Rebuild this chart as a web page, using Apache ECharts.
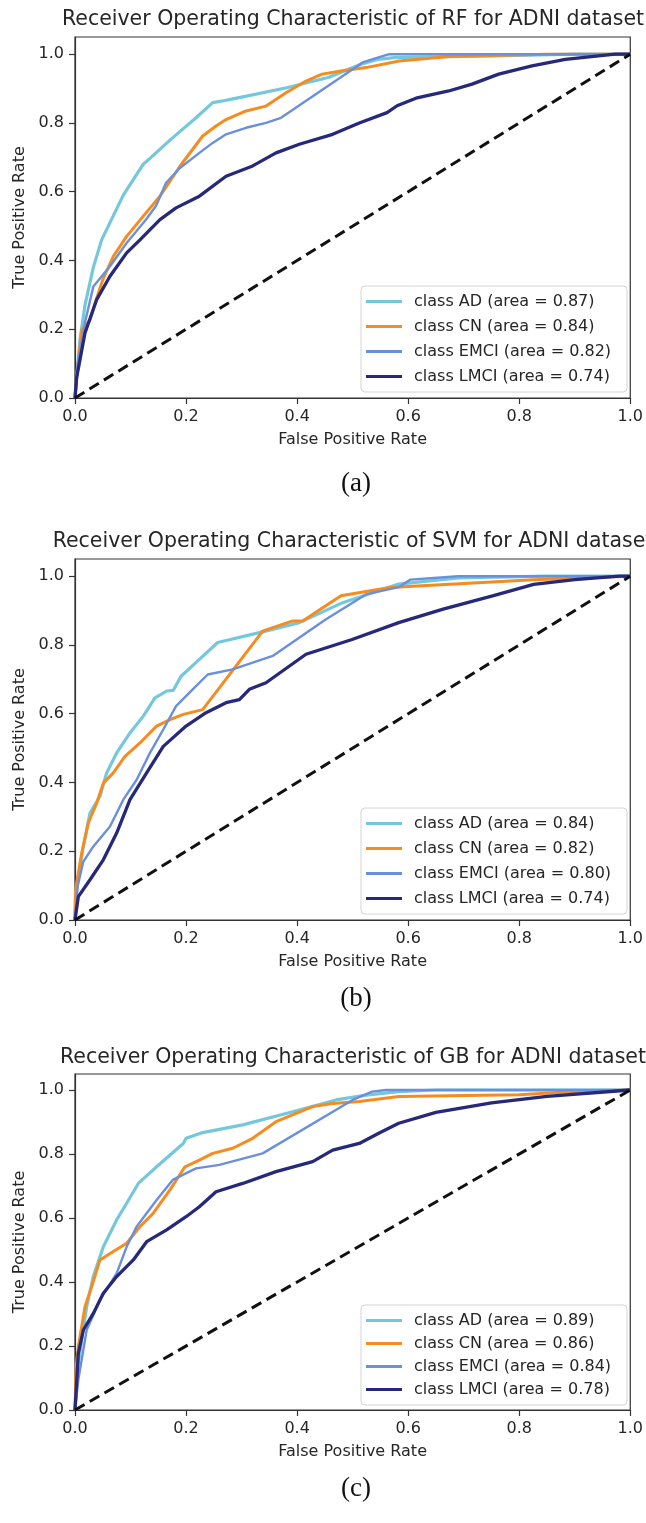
<!DOCTYPE html>
<html lang="en">

<head>
    <meta charset="UTF-8">
    <script src="https://cdn.jsdelivr.net/npm/echarts@6/dist/echarts.min.js"></script>
    <title>ROC curves - RF / SVM / GB on ADNI</title>
    <style>
        html, body { margin: 0; padding: 0; background: #fff; }
        #chart { width: 646px; height: 1523px; }
    </style>
</head>

<body>
    <div id="chart"></div>

    <script>
        // tick labels shared by both axes
        const ticks = [0, 0.2, 0.4, 0.6, 0.8, 1.0];
        const classNames = ['AD', 'CN', 'EMCI', 'LMCI'];
        const chance = [[0, 0], [1, 1]];

        // (a) RF
        const rfAuc = [0.87, 0.84, 0.82, 0.74];
        const rfAD = [[0,0],[0.003,0.06],[0.009,0.17],[0.018,0.27],[0.033,0.38],[0.048,0.46],[0.063,0.51],[0.087,0.59],[0.123,0.68],[0.137,0.70],[0.171,0.75],[0.218,0.815],[0.248,0.859],[0.266,0.864],[0.284,0.87],[0.309,0.878],[0.383,0.903],[0.456,0.932],[0.515,0.971],[0.545,0.985],[0.575,0.99],[0.75,0.995],[0.9,1.0],[1,1]];
        const rfCN = [[0,0],[0.003,0.06],[0.012,0.198],[0.027,0.227],[0.036,0.276],[0.05,0.344],[0.069,0.412],[0.093,0.47],[0.123,0.529],[0.153,0.587],[0.189,0.674],[0.23,0.762],[0.254,0.791],[0.272,0.81],[0.308,0.835],[0.344,0.849],[0.38,0.888],[0.416,0.922],[0.445,0.942],[0.482,0.952],[0.524,0.961],[0.584,0.98],[0.674,0.993],[0.85,1.0],[1,1]];
        const rfEMCI = [[0,0],[0.005,0.1],[0.018,0.22],[0.033,0.324],[0.063,0.383],[0.093,0.451],[0.128,0.519],[0.146,0.559],[0.164,0.626],[0.189,0.669],[0.224,0.713],[0.248,0.742],[0.272,0.767],[0.308,0.786],[0.344,0.8],[0.371,0.815],[0.518,0.976],[0.545,0.99],[0.566,1.0],[1,1]];
        const rfLMCI = [[0,0],[0.003,0.06],[0.018,0.189],[0.039,0.286],[0.063,0.354],[0.093,0.422],[0.117,0.46],[0.153,0.519],[0.182,0.553],[0.224,0.587],[0.272,0.645],[0.32,0.675],[0.362,0.713],[0.404,0.738],[0.464,0.767],[0.512,0.80],[0.562,0.83],[0.58,0.85],[0.614,0.872],[0.673,0.893],[0.715,0.913],[0.763,0.942],[0.823,0.966],[0.883,0.985],[0.973,1.0],[1,1]];

        // (b) SVM
        const svmAuc = [0.84, 0.82, 0.80, 0.74];
        const svmAD = [[0,0],[0.001,0.078],[0.015,0.214],[0.027,0.311],[0.045,0.36],[0.057,0.428],[0.075,0.486],[0.099,0.544],[0.123,0.593],[0.144,0.646],[0.165,0.666],[0.177,0.668],[0.191,0.709],[0.224,0.758],[0.257,0.807],[0.332,0.836],[0.404,0.865],[0.482,0.923],[0.583,0.977],[0.69,0.995],[0.85,1.0],[1,1]];
        const svmCN = [[0,0],[0.001,0.087],[0.012,0.194],[0.024,0.282],[0.039,0.34],[0.051,0.398],[0.069,0.428],[0.09,0.476],[0.117,0.515],[0.147,0.564],[0.171,0.583],[0.195,0.598],[0.23,0.612],[0.338,0.84],[0.392,0.87],[0.41,0.87],[0.479,0.943],[0.567,0.967],[0.6,0.97],[0.826,0.99],[1,1]];
        const svmEMCI = [[0,0],[0.005,0.1],[0.015,0.17],[0.033,0.214],[0.063,0.272],[0.087,0.35],[0.111,0.408],[0.135,0.486],[0.159,0.554],[0.182,0.622],[0.212,0.671],[0.239,0.714],[0.284,0.729],[0.356,0.768],[0.452,0.875],[0.524,0.947],[0.583,0.968],[0.604,0.99],[0.69,1.0],[1,1]];
        const svmLMCI = [[0,0],[0.006,0.068],[0.027,0.117],[0.051,0.175],[0.075,0.253],[0.099,0.35],[0.129,0.428],[0.159,0.505],[0.2,0.564],[0.236,0.603],[0.272,0.632],[0.296,0.641],[0.314,0.671],[0.344,0.69],[0.416,0.773],[0.499,0.816],[0.583,0.865],[0.663,0.904],[0.752,0.943],[0.826,0.976],[0.9,0.99],[0.98,1.0],[1,1]];

        // (c) GB
        const gbAuc = [0.89, 0.86, 0.84, 0.78];
        const gbAD = [[0,0],[0.006,0.146],[0.021,0.323],[0.033,0.417],[0.051,0.51],[0.075,0.594],[0.093,0.646],[0.114,0.708],[0.147,0.76],[0.195,0.833],[0.2,0.849],[0.23,0.867],[0.302,0.891],[0.392,0.932],[0.47,0.969],[0.524,0.984],[0.583,0.995],[0.65,1.0],[1,1]];
        const gbCN = [[0,0],[0.002,0.135],[0.006,0.198],[0.018,0.323],[0.03,0.385],[0.045,0.469],[0.069,0.495],[0.093,0.521],[0.117,0.573],[0.141,0.615],[0.171,0.688],[0.198,0.76],[0.224,0.781],[0.248,0.802],[0.284,0.818],[0.32,0.849],[0.362,0.901],[0.428,0.948],[0.464,0.958],[0.512,0.964],[0.583,0.98],[0.8,0.985],[0.9,0.995],[1,1]];
        const gbEMCI = [[0,0],[0.006,0.094],[0.021,0.25],[0.045,0.344],[0.075,0.427],[0.093,0.51],[0.111,0.573],[0.129,0.615],[0.147,0.656],[0.176,0.719],[0.218,0.755],[0.26,0.766],[0.338,0.802],[0.5,0.969],[0.535,0.995],[0.56,1.0],[1,1]];
        const gbLMCI = [[0,0],[0.006,0.177],[0.015,0.25],[0.033,0.302],[0.051,0.365],[0.075,0.417],[0.105,0.469],[0.129,0.526],[0.165,0.563],[0.2,0.604],[0.224,0.635],[0.254,0.682],[0.302,0.708],[0.362,0.745],[0.428,0.776],[0.464,0.812],[0.512,0.833],[0.547,0.865],[0.583,0.896],[0.65,0.93],[0.75,0.96],[0.85,0.98],[1,1]];

        const colors = ['#74c8dc', '#f68b1f', '#6a8fdc', '#26297a'];
        const widths = [3.2, 3, 2.4, 3.3];
        const font = 'DejaVu Sans';
        const textColor = '#262626';

        // one entry per subplot: layout only
        const panels = [
            { title: 'Receiver Operating Characteristic of RF for ADNI dataset', tag: '(a)', auc: rfAuc, curves: [rfAD, rfCN, rfEMCI, rfLMCI],
              top: 37, height: 361, titleTop: 9, legendTop: 286, rowGap: 8, tagTop: 470 },
            { title: 'Receiver Operating Characteristic of SVM for ADNI dataset', tag: '(b)', auc: svmAuc, curves: [svmAD, svmCN, svmEMCI, svmLMCI],
              top: 559, height: 361, titleTop: 531, legendTop: 808, rowGap: 8, tagTop: 985 },
            { title: 'Receiver Operating Characteristic of GB for ADNI dataset', tag: '(c)', auc: gbAuc, curves: [gbAD, gbCN, gbEMCI, gbLMCI],
              top: 1074, height: 336, titleTop: 1047, legendTop: 1305, rowGap: 6, tagTop: 1475 }
        ];

        const grid = [], xAxis = [], yAxis = [], title = [], legend = [], series = [];

        panels.forEach((p, i) => {
            grid.push({ left: 75, top: p.top, width: 557, height: p.height, show: true, borderColor: '#333', borderWidth: 1.2 });

            title.push({
                text: p.title, left: 353, top: p.titleTop, textAlign: 'center', padding: 0,
                textStyle: { fontFamily: font, fontSize: 20.5, fontWeight: 'normal', color: textColor }
            });
            // caption under the subplot
            title.push({
                text: p.tag, left: 356, top: p.tagTop, textAlign: 'center', padding: 0,
                textStyle: { fontFamily: 'Liberation Serif', fontSize: 27, fontWeight: 'normal', color: '#111' }
            });

            const axisCommon = {
                gridIndex: i, min: 0,
                axisLine: { show: true, onZero: false, lineStyle: { color: '#333', width: 1.2 } },
                axisTick: { show: true, length: 6, customValues: ticks, lineStyle: { color: '#333', width: 1.2 } },
                axisLabel: { customValues: ticks, margin: 11, fontFamily: font, fontSize: 16, color: textColor, formatter: v => v.toFixed(1) },
                splitLine: { show: false },
                nameLocation: 'middle',
                nameTextStyle: { fontFamily: font, fontSize: 16, color: textColor }
            };
            xAxis.push(Object.assign({}, axisCommon, { type: 'value', max: 1, name: 'False Positive Rate', nameGap: 34 }));
            yAxis.push(Object.assign({}, axisCommon, { type: 'value', max: 1.05, name: 'True Positive Rate', nameGap: 46 }));

            const names = [];
            p.curves.forEach((data, k) => {
                const name = 'class ' + classNames[k] + ' (area = ' + p.auc[k].toFixed(2) + ')';
                names.push(name);
                series.push({
                    name, type: 'line', xAxisIndex: i, yAxisIndex: i, data,
                    symbol: 'none', silent: true, animation: false,
                    itemStyle: { color: colors[k] },
                    lineStyle: { color: colors[k], width: widths[k] }
                });
            });
            series.push({
                type: 'line', xAxisIndex: i, yAxisIndex: i, data: chance,
                symbol: 'none', silent: true, animation: false,
                lineStyle: { color: '#111', width: 3, type: [11, 6] }
            });

            legend.push({
                data: names, orient: 'vertical', left: 361, top: p.legendTop,
                icon: 'rect', itemWidth: 36, itemHeight: 3, itemGap: p.rowGap,
                padding: [7, 16, 7, 5],
                backgroundColor: 'rgba(255,255,255,0.85)', borderColor: '#d4d4d4', borderWidth: 1, borderRadius: 4,
                selectedMode: false,
                textStyle: { fontFamily: font, fontSize: 16, lineHeight: 17, color: textColor, padding: [0, 0, 0, 7] }
            });
        });

        const chart = echarts.init(document.getElementById('chart'), null, { renderer: 'canvas' });
        chart.setOption({ animation: false, title, grid, xAxis, yAxis, legend, series });
    </script>
</body>

</html>
